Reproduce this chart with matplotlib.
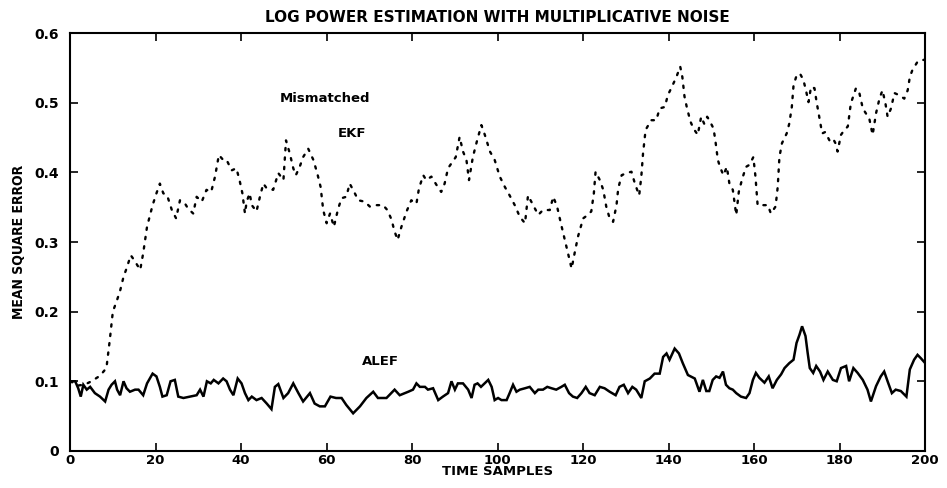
import matplotlib
matplotlib.use("Agg")
import matplotlib.pyplot as plt

ekf_t = [0, 1, 2, 3, 4, 5, 6, 7, 8.5, 9.3, 10, 11, 11.7, 12.5, 13.2, 14.2, 15, 16.4, 17.1, 18, 19.3, 20.2, 21,
         21.8, 22.7, 23.8, 24.8, 25.7, 26.9, 27.6, 28.8, 29.6, 30.8, 31.9, 33, 33.9, 34.8, 35.8, 36.6, 37.8,
         38.9, 39.7, 40.3, 40.9, 41.3, 42, 42.5, 43.6, 44.4, 45.2, 46, 47.5, 48.7, 49.9, 50.5, 51.4, 52.2,
         52.8, 53.7, 54.5, 55.7, 56.9, 57.8, 58.6, 59.2, 60, 60.8, 61.7, 62.7, 63.5, 64.6, 65.4, 66.6, 67.4,
         68.9, 70.1, 71.7, 73.2, 74.2, 75.2, 75.8, 76.6, 77.5, 78.7, 79.8, 81, 81.6, 82.6, 83.3, 84.5, 85.7,
         86.8, 87.6, 88.4, 89.2, 90.2, 91.1, 91.9, 92.7, 93.3, 94.2, 95.2, 96.2, 97, 98.2, 99.3, 100.5,
         101.7, 102.8, 104, 105.2, 106.4, 107.1, 108.3, 109.5, 110.6, 112.2, 113, 113.9, 114.9, 116.1,
         117.3, 118, 118.8, 120, 121.1, 121.9, 122.5, 122.9, 123.9, 124.7, 125.4, 126.2, 127, 127.8, 128.2,
         129, 130.1, 131.3, 132.1, 133.1, 133.6, 134, 134.6, 135.9, 137.1, 137.9, 139.1, 139.8, 140.6,
         141.8, 142.7, 143.2, 143.7, 144.3, 145.1, 145.8, 146.8, 147.6, 148.3, 149, 149.5, 150.5, 151,
         151.5, 152, 152.8, 153.6, 154.2, 155, 155.8, 156.4, 157.2, 158.1, 158.9, 159.8, 160.3, 160.8, 162,
         163.2, 163.9, 165, 165.5, 165.9, 166.5, 167.6, 168.2, 168.8, 169.2, 169.9, 170.7, 171.5, 172.1,
         172.7, 173.3, 174.1, 174.6, 175.2, 175.9, 176.6, 177.6, 178.4, 179, 179.5, 180.3, 181.1, 181.9,
         182.6, 183.8, 184.6, 185.4, 186.1, 186.9, 187.7, 188.1, 188.5, 189.3, 190, 190.7, 191.2, 192,
         192.8, 193.9, 195.1, 195.9, 196.4, 197, 198.2, 199, 200]
ekf_mse = [0.100, 0.097, 0.094, 0.095, 0.097, 0.100, 0.104, 0.108, 0.119, 0.160, 0.200, 0.217, 0.230, 0.250,
           0.262, 0.281, 0.274, 0.260, 0.284, 0.322, 0.353, 0.370, 0.384, 0.370, 0.367, 0.346, 0.334, 0.360,
           0.355, 0.348, 0.341, 0.365, 0.358, 0.375, 0.372, 0.394, 0.425, 0.418, 0.418, 0.403, 0.406, 0.387,
           0.370, 0.341, 0.358, 0.370, 0.353, 0.344, 0.365, 0.384, 0.377, 0.375, 0.399, 0.389, 0.446, 0.427,
           0.406, 0.396, 0.408, 0.422, 0.434, 0.418, 0.399, 0.379, 0.346, 0.327, 0.341, 0.322, 0.348, 0.363,
           0.365, 0.384, 0.370, 0.360, 0.358, 0.351, 0.353, 0.353, 0.346, 0.332, 0.317, 0.303, 0.322, 0.344,
           0.360, 0.355, 0.377, 0.396, 0.389, 0.394, 0.382, 0.372, 0.384, 0.406, 0.413, 0.422, 0.451, 0.430,
           0.418, 0.389, 0.422, 0.446, 0.468, 0.454, 0.430, 0.418, 0.394, 0.379, 0.367, 0.353, 0.336, 0.327,
           0.367, 0.353, 0.339, 0.346, 0.346, 0.365, 0.351, 0.324, 0.293, 0.262, 0.284, 0.308, 0.334, 0.339,
           0.344, 0.370, 0.401, 0.389, 0.375, 0.351, 0.334, 0.329, 0.353, 0.377, 0.396, 0.399, 0.401, 0.384,
           0.367, 0.394, 0.427, 0.461, 0.475, 0.475, 0.492, 0.494, 0.511, 0.521, 0.537, 0.552, 0.537, 0.509,
           0.492, 0.473, 0.463, 0.454, 0.480, 0.470, 0.480, 0.475, 0.463, 0.442, 0.418, 0.408, 0.396, 0.408,
           0.384, 0.375, 0.339, 0.372, 0.391, 0.408, 0.411, 0.422, 0.394, 0.353, 0.353, 0.353, 0.341, 0.351,
           0.379, 0.422, 0.442, 0.456, 0.470, 0.494, 0.525, 0.539, 0.542, 0.533, 0.518, 0.501, 0.523, 0.521,
           0.501, 0.480, 0.456, 0.458, 0.446, 0.449, 0.442, 0.430, 0.454, 0.461, 0.466, 0.499, 0.521, 0.514,
           0.492, 0.485, 0.478, 0.454, 0.470, 0.485, 0.506, 0.518, 0.499, 0.480, 0.492, 0.514, 0.511, 0.506,
           0.518, 0.537, 0.547, 0.559, 0.561, 0.562]

alef_t = [0, 1.2, 1.9, 2.5, 3.1, 3.9, 4.7, 5.8, 7, 8.2, 9, 9.7, 10.5, 11, 11.7, 12.5, 13.2, 14, 15.2, 16, 17.1,
          18, 19.3, 20.2, 21, 21.6, 22.6, 23.5, 24.5, 25.3, 26.5, 28, 29.6, 30.4, 31.2, 32, 32.9, 33.6, 34.7,
          35.8, 36.6, 37.4, 38.2, 39.2, 40.1, 40.9, 41.7, 42.5, 43.6, 44.8, 46, 47.1, 47.9, 48.7, 49.9, 51,
          52.2, 53.4, 54.5, 56.1, 57.2, 58.4, 59.6, 60.9, 62.2, 63.5, 64.6, 66.2, 67.8, 69.3, 70.9, 72, 74,
          75.9, 77.1, 79.1, 80.2, 81, 81.8, 83, 83.7, 84.9, 86.1, 87.2, 88.4, 89.2, 90, 90.7, 91.9, 93.1,
          93.9, 94.6, 95.3, 96.1, 97.8, 98.6, 99.3, 100.1, 100.9, 102.1, 102.8, 103.6, 104.4, 105.2, 106.4,
          107.5, 108.7, 109.5, 110.6, 111.6, 112.6, 113.7, 114.9, 115.7, 116.7, 117.6, 118.6, 119.6, 120.6,
          121.5, 122.7, 123.9, 125, 126.2, 127.6, 128.5, 129.5, 130.5, 131.5, 132.4, 133.6, 134.4, 135.6,
          136.7, 137.9, 138.7, 139.5, 140.2, 141.4, 142.4, 143.3, 144.5, 146.1, 147.2, 148, 148.8, 149.5,
          150.3, 151.1, 151.9, 152.7, 153.4, 154.2, 155, 155.8, 156.9, 158.1, 158.9, 159.7, 160.4, 161.2,
          162.4, 163.4, 164.3, 165.3, 166.3, 167.1, 168.2, 169.2, 169.9, 170.6, 171.2, 172, 172.5, 173,
          173.8, 174.5, 175.4, 176.2, 177.2, 178.4, 179.3, 180.3, 181.5, 182.2, 183.2, 184.2, 185.4, 186.5,
          187.3, 188.5, 189.6, 190.4, 191.2, 192.2, 193.1, 194.3, 195.6, 196.4, 197.4, 198.2, 199, 200]
alef_mse = [0.100, 0.100, 0.090, 0.078, 0.095, 0.088, 0.092, 0.083, 0.078, 0.071, 0.088, 0.095, 0.100, 0.088,
            0.080, 0.100, 0.090, 0.085, 0.088, 0.088, 0.080, 0.097, 0.111, 0.107, 0.092, 0.078, 0.080, 0.100,
            0.102, 0.078, 0.076, 0.078, 0.080, 0.088, 0.078, 0.100, 0.097, 0.102, 0.097, 0.104, 0.100, 0.088,
            0.080, 0.104, 0.097, 0.083, 0.073, 0.078, 0.073, 0.076, 0.068, 0.060, 0.092, 0.096, 0.076, 0.083,
            0.097, 0.083, 0.071, 0.083, 0.068, 0.064, 0.064, 0.078, 0.076, 0.076, 0.066, 0.054, 0.064, 0.076,
            0.085, 0.076, 0.076, 0.088, 0.080, 0.085, 0.088, 0.097, 0.092, 0.092, 0.088, 0.090, 0.073, 0.078,
            0.083, 0.100, 0.088, 0.097, 0.097, 0.088, 0.076, 0.095, 0.097, 0.092, 0.102, 0.092, 0.073, 0.076,
            0.073, 0.073, 0.083, 0.095, 0.085, 0.088, 0.090, 0.092, 0.083, 0.088, 0.088, 0.092, 0.090, 0.088,
            0.092, 0.095, 0.083, 0.078, 0.076, 0.083, 0.092, 0.083, 0.080, 0.092, 0.090, 0.085, 0.080, 0.092,
            0.095, 0.083, 0.092, 0.088, 0.076, 0.100, 0.104, 0.111, 0.111, 0.135, 0.140, 0.131, 0.147, 0.140,
            0.126, 0.109, 0.104, 0.085, 0.102, 0.086, 0.086, 0.102, 0.107, 0.105, 0.114, 0.095, 0.090, 0.088,
            0.083, 0.078, 0.076, 0.083, 0.102, 0.112, 0.105, 0.098, 0.107, 0.090, 0.102, 0.110, 0.119, 0.126,
            0.131, 0.155, 0.167, 0.179, 0.165, 0.141, 0.119, 0.112, 0.122, 0.114, 0.102, 0.114, 0.102, 0.100,
            0.119, 0.122, 0.100, 0.119, 0.112, 0.102, 0.088, 0.071, 0.093, 0.107, 0.114, 0.100, 0.083, 0.088,
            0.086, 0.078, 0.117, 0.131, 0.138, 0.133, 0.126]

x_ticks = [0, 20, 40, 60, 80, 100, 120, 140, 160, 180, 200]
y_ticks = [0, 0.1, 0.2, 0.3, 0.4, 0.5, 0.6]
y_tick_labels = ["0", "0.1", "0.2", "0.3", "0.4", "0.5", "0.6"]

plt.rcParams['font.family'] = ['DejaVu Sans']
fig = plt.figure(figsize=(9.47, 4.88), dpi=100)
ax = fig.add_axes([0.074, 0.076, 0.903, 0.856])

ax.plot(ekf_t, ekf_mse, color='black', lw=1.7, linestyle=(0, (1.0, 3.0)), dash_capstyle='round')
ax.plot(alef_t, alef_mse, color='black', lw=1.8, solid_joinstyle='miter')

ax.set_xlim(0, 200)
ax.set_ylim(0, 0.6)
ax.set_xticks(x_ticks)
ax.set_xticklabels([str(v) for v in x_ticks], fontweight='bold', fontsize=9.5)
ax.set_yticks(y_ticks)
ax.set_yticklabels(y_tick_labels, fontweight='bold', fontsize=10)
ax.tick_params(direction='in', top=True, right=True, length=6, width=1.2)
ax.tick_params(axis='x', pad=2)
ax.tick_params(axis='y', pad=8)
for s in ax.spines.values():
    s.set_linewidth(1.5)

ax.set_title("LOG POWER ESTIMATION WITH MULTIPLICATIVE NOISE", fontweight='bold', fontsize=11, pad=8)
ax.set_xlabel("TIME SAMPLES", fontweight='bold', fontsize=9.5, labelpad=-1)
ax.set_ylabel("MEAN SQUARE ERROR", fontweight='bold', fontsize=10, fontstretch='condensed', labelpad=6)

ax.text(59.6, 0.506, "Mismatched", fontweight='bold', fontsize=9.5, ha='center', va='center')
ax.text(66.0, 0.456, "EKF", fontweight='bold', fontsize=9.5, ha='center', va='center')
ax.text(72.7, 0.128, "ALEF", fontweight='bold', fontsize=9.5, ha='center', va='center')

fig.savefig("out.png", dpi=100)
